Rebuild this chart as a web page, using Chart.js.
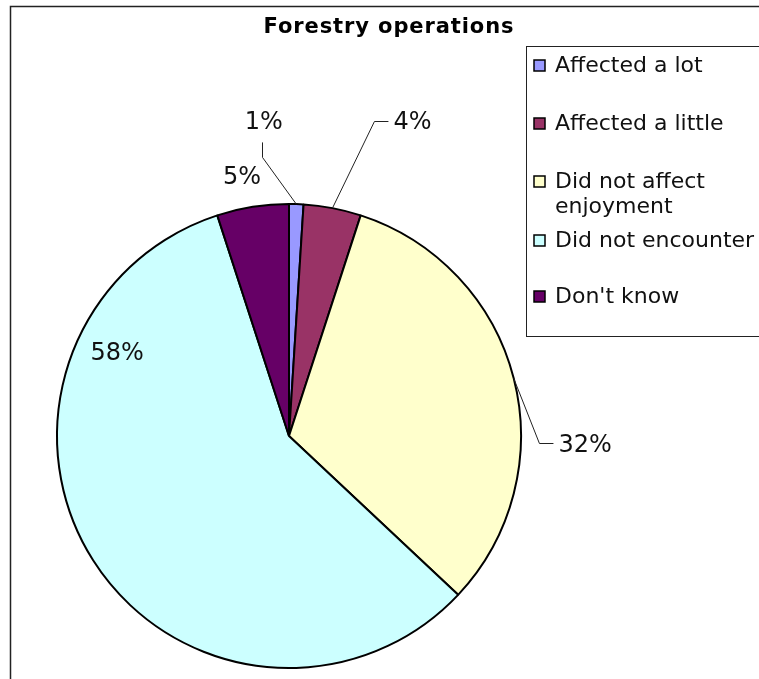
<!DOCTYPE html>
<html>
<head>
<meta charset="utf-8">
<title>Forestry operations</title>
<script src="https://cdn.jsdelivr.net/npm/chart.js@4.4.1/dist/chart.umd.min.js"></script>
<style>
  html, body { margin: 0; padding: 0; background: #ffffff; }
  #wrap { width: 759px; height: 679px; position: relative; }
</style>
</head>
<body>
<div id="wrap"><canvas id="pie" width="759" height="679"></canvas></div>
<script>
// Survey responses: how forestry operations affected visitors' enjoyment
const chartTitle = 'Forestry operations';
const categories = ['Affected a lot', 'Affected a little', 'Did not affect enjoyment', 'Did not encounter', "Don't know"];
const legendLines = [['Affected a lot'], ['Affected a little'], ['Did not affect', 'enjoyment'], ['Did not encounter'], ["Don't know"]];
const percentages = [1, 4, 32, 58, 5];
const sliceColors = ['#9999FF', '#993366', '#FFFFCC', '#CCFFFF', '#660066'];

// Where each percentage label sits: polar position around the pie centre
// (degrees clockwise from 12 o'clock, distance as a multiple of the radius)
// and which way its leader line leaves the label.
const labelPlacement = [
  { deg: -4.6, dist: 1.356, leader: 'below' },
  { deg: 21.5, dist: 1.452, leader: 'left' },
  { deg: 91.8, dist: 1.277, leader: 'left' },
  { deg: 295.5, dist: 0.821, leader: null },
  { deg: -10.3, dist: 1.131, leader: null }
];

const FONT = '"DejaVu Sans", Verdana, sans-serif';

const decorPlugin = {
  id: 'decor',
  beforeDraw(chart) {
    const ctx = chart.ctx;
    ctx.save();
    // outer chart frame (runs off the right and bottom edges)
    ctx.strokeStyle = '#222222';
    ctx.lineWidth = 1.5;
    ctx.strokeRect(10.5, 6.5, chart.width + 20, chart.height + 20);
    ctx.restore();
  },
  afterDraw(chart) {
    const ctx = chart.ctx;
    const meta = chart.getDatasetMeta(0);
    ctx.save();

    // title
    ctx.fillStyle = '#000000';
    ctx.font = 'bold 21px ' + FONT;
    ctx.letterSpacing = '0.9px';
    ctx.textAlign = 'center';
    ctx.textBaseline = 'alphabetic';
    ctx.fillText(chartTitle, 389, 33);
    ctx.letterSpacing = '0px';

    // percentage labels with leader lines
    ctx.font = '24px ' + FONT;
    ctx.textAlign = 'center';
    ctx.textBaseline = 'middle';
    meta.data.forEach((arc, i) => {
      const p = labelPlacement[i];
      const R = arc.outerRadius;
      const a = p.deg * Math.PI / 180 - Math.PI / 2;
      const lx = arc.x + Math.cos(a) * p.dist * R;
      const ly = arc.y + Math.sin(a) * p.dist * R;
      const text = percentages[i] + '%';
      ctx.fillStyle = '#111111';
      ctx.fillText(text, lx, ly);

      if (p.leader) {
        const mid = (arc.startAngle + arc.endAngle) / 2;
        const ex = arc.x + Math.cos(mid) * R;
        const ey = arc.y + Math.sin(mid) * R;
        const w = ctx.measureText(text).width;
        ctx.strokeStyle = '#222222';
        ctx.lineWidth = 1;
        ctx.beginPath();
        if (p.leader === 'below') {
          const sx = Math.round(lx - 1.5) + 0.5;
          ctx.moveTo(sx, ly + 20);
          ctx.lineTo(sx, ly + 35);
          ctx.lineTo(ex, ey);
        } else {
          const sy = Math.round(ly - 2) + 0.5;
          const sx = lx - w / 2 - 5;
          ctx.moveTo(sx, sy);
          ctx.lineTo(sx - 14, sy);
          ctx.lineTo(ex, ey);
        }
        ctx.stroke();
      }
    });

    // legend box
    const bx = 526.5, by = 46.5, bw = 260, bh = 290;
    ctx.fillStyle = '#ffffff';
    ctx.fillRect(bx, by, bw, bh);
    ctx.strokeStyle = '#222222';
    ctx.lineWidth = 1;
    ctx.strokeRect(bx, by, bw, bh);

    const rowBaselines = [72, 130, 188, 247, 303];
    ctx.font = '22px ' + FONT;
    ctx.textAlign = 'left';
    ctx.textBaseline = 'alphabetic';
    categories.forEach((name, i) => {
      const base = rowBaselines[i];
      ctx.fillStyle = sliceColors[i];
      ctx.fillRect(534, base - 12, 11, 11);
      ctx.strokeStyle = '#000000';
      ctx.lineWidth = 1.5;
      ctx.strokeRect(534, base - 12, 11, 11);
      ctx.fillStyle = '#111111';
      legendLines[i].forEach((line, j) => {
        ctx.fillText(line, 555, base + j * 25);
      });
    });
    ctx.restore();
  }
};

new Chart(document.getElementById('pie'), {
  type: 'pie',
  data: {
    labels: categories,
    datasets: [{
      data: percentages,
      backgroundColor: sliceColors,
      borderColor: '#000000',
      borderWidth: 2,
      borderAlign: 'center'
    }]
  },
  options: {
    responsive: false,
    animation: false,
    events: [],
    layout: { padding: { left: 56, right: 237, top: 203, bottom: 10 } },
    plugins: {
      legend: { display: false },
      title: { display: false },
      tooltip: { enabled: false }
    }
  },
  plugins: [decorPlugin]
});
</script>
</body>
</html>
